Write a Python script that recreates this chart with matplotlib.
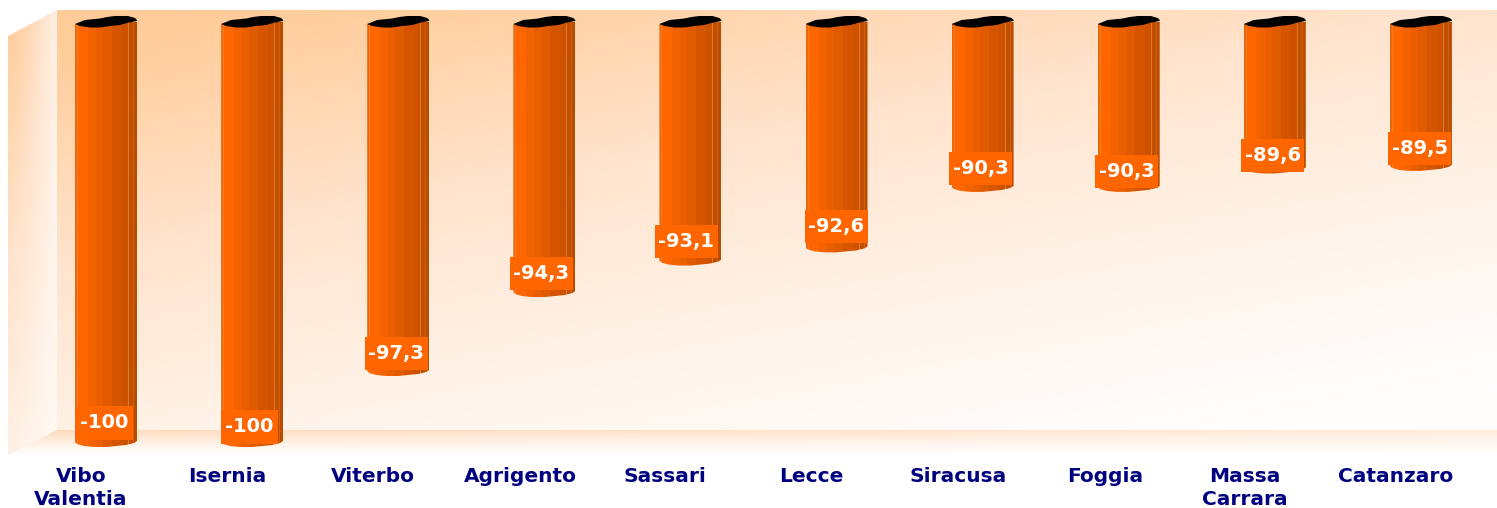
import numpy as np
import matplotlib
matplotlib.use("Agg")
import matplotlib.pyplot as plt
from matplotlib.patches import Polygon
from matplotlib.colors import LinearSegmentedColormap

cities = ["Vibo\nValentia", "Isernia", "Viterbo", "Agrigento", "Sassari",
          "Lecce", "Siracusa", "Foggia", "Massa\nCarrara", "Catanzaro"]
values = [-100, -100, -97.3, -94.3, -93.1, -92.6, -90.3, -90.3, -89.6, -89.5]
labels = ["-100", "-100", "-97,3", "-94,3", "-93,1", "-92,6", "-90,3", "-90,3", "-89,6", "-89,5"]

W, H = 1497, 508
STEP = 146.1      # px between bars
X0 = 106.0        # px of first bar centre
Y100 = 447.0      # px of -100
PX_UNIT = 26.3    # px per percentage point
BAR_TOP = -83.84  # value axis is cut here, top of the cylinders

fig = plt.figure(figsize=(W / 100, H / 100), dpi=100)
ax = fig.add_axes([0, 0, 1, 1])
ax.set_xlim(-X0 / STEP, (W - X0) / STEP)
ax.set_ylim(-100 - (H - Y100) / PX_UNIT, -100 + Y100 / PX_UNIT)
ax.axis("off")


def dx(px):
    return np.asarray(px) / STEP


def dy(px):
    # px measured upwards
    return np.asarray(px) / PX_UNIT


def to_data(px, py):
    return (np.asarray(px) - X0) / STEP, -100 + (Y100 - np.asarray(py)) / PX_UNIT


def gradient(arr, corners, extent_px):
    cmap = LinearSegmentedColormap.from_list("wall", ["#FFFFFF", "#FFF4EB", "#FFE3CC", "#FFCC99"])
    x1, y1 = to_data(extent_px[0], extent_px[3])
    x2, y2 = to_data(extent_px[1], extent_px[2])
    im = ax.imshow(arr, extent=(x1, x2, y1, y2), cmap=cmap, vmin=0, vmax=1,
                   aspect="auto", interpolation="bilinear", zorder=1, origin="upper")
    px, py = zip(*corners)
    xs, ys = to_data(px, py)
    poly = Polygon(np.column_stack([xs, ys]), closed=True, transform=ax.transData,
                   facecolor="none", edgecolor="none")
    ax.add_patch(poly)
    im.set_clip_path(poly)


# back wall
u, v = np.meshgrid(np.linspace(0, 1, 300), np.linspace(0, 1, 200))
gradient(np.clip(1.05 - 0.4 * u - 0.65 * v - 0.03 * u * v, 0.02, 1),
         [(57, 10), (W, 10), (W, 430), (57, 430)], (57, W, 10, 430))
# left wall
u, v = np.meshgrid(np.linspace(0, 1, 100), np.linspace(0, 1, 200))
gradient(np.clip((1 - 0.6 * u ** 1.5) * (1 - 0.6 * v), 0, 1),
         [(8, 36), (57, 10), (57, 430), (8, 455)], (8, 57, 10, 455))
# floor
u, v = np.meshgrid(np.linspace(0, 1, 300), np.linspace(0, 1, 60))
gradient(np.clip((0.8 - 0.3 * u) * (1 - v) ** 0.9, 0, 1),
         [(57, 430), (W, 430), (W, 455), (8, 455)], (8, W, 430, 455))

# cylinder shading, left to right across the 62 px width
strip_edges = np.array([-31, -29, -28, -18, -10, -3, 6, 16, 22, 23, 27, 28, 31])
strip_colors = ["#E86A10", "#F67A20", "#FF6600", "#F26200", "#EA5E00", "#E05A00", "#D45400",
                "#CC5200", "#E07828", "#C05000", "#D06010", "#BA4C00"]

# outlines of the bar end and of the black top, px offsets from centre
bottom_x = np.array([-31, -29, -22, -12, 0, 10, 20, 28, 31])
bottom_y = np.array([5, 3, 1, 0, 0, 1, 2, 4, 6])
top_x = np.array([-31, -21, -6, 1, 9, 22, 29, 31, 31, 22, 14, 4, -6, -16, -26])
top_y = np.array([-2, 2, 3.5, 5, 6, 6, 4, 2, 1, -0.7, -3, -4, -5.5, -5.5, -4])

for i, val in enumerate(values):
    bx = i + dx(bottom_x)
    by = val + dy(bottom_y)
    tx = np.array([i + dx(31), i - dx(31)])
    ty = np.array([BAR_TOP + dy(1), BAR_TOP - dy(2)])
    outline = Polygon(np.column_stack([np.r_[bx, tx], np.r_[by, ty]]), closed=True,
                      transform=ax.transData, facecolor="none", edgecolor="none")
    ax.add_patch(outline)
    for j, color in enumerate(strip_colors):
        left = i + dx(strip_edges[j])
        width = dx(strip_edges[j + 1] - strip_edges[j])
        bars = ax.bar(left, BAR_TOP - (val - dy(2)), bottom=val - dy(2), width=width,
                      align="edge", color=color, linewidth=0, zorder=3)
        bars[0].set_clip_path(outline)

    # black top
    ax.fill(i + dx(top_x), BAR_TOP + dy(top_y), color="black", linewidth=0, zorder=4)

# data labels sit a bit off the bar ends, same as the original
label_dx = [-2, -3, -2, -3, -4, 0, -2, -2, -2, -1]
label_dy = [24, 20, 22, 24, 24, 26, 23, 20, 18, 22]
for i, (val, lab) in enumerate(zip(values, labels)):
    box_w = 57 if lab == "-100" else 63
    ax.bar(i + dx(label_dx[i]), dy(33), bottom=val + dy(label_dy[i] - 16.5), width=dx(box_w),
           color="#FF6600", linewidth=0, zorder=5)
    ax.text(i + dx(label_dx[i]), val + dy(label_dy[i]), lab, color="white",
            fontsize=14, fontweight="bold", family="DejaVu Sans",
            ha="center", va="center", zorder=6)

# category labels
cat_y = to_data(0, 467)[1]
cat_dx = [-25, -25, -25, -24, -25, -25, -24, -24, -30, -25]
for i, name in enumerate(cities):
    ax.text(i + dx(cat_dx[i]), cat_y, name, color="#000080",
            fontsize=14.5, fontweight="bold", family="DejaVu Sans",
            ha="center", va="top", linespacing=1.25, zorder=6)

fig.savefig("out.png", dpi=100)
